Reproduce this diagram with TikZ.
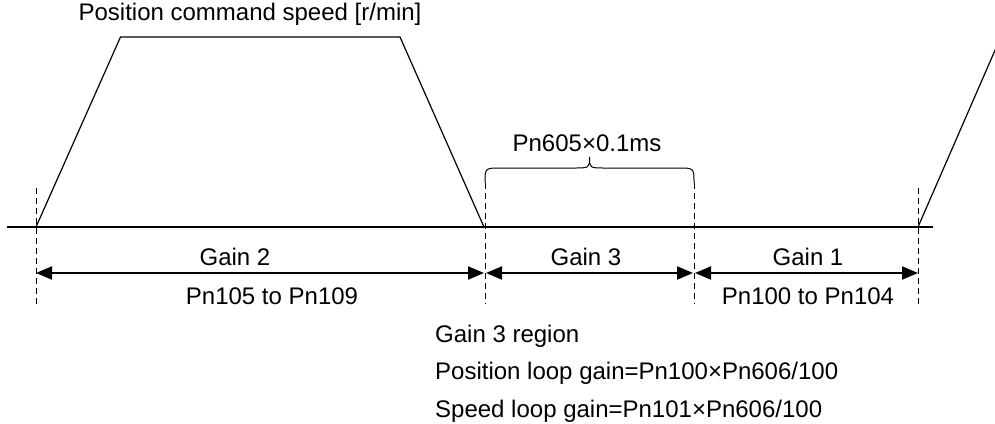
\documentclass[tikz,border=0pt]{standalone}
\usepackage{fontspec}
\setmainfont{Liberation Sans}
\usetikzlibrary{arrows.meta}
\begin{document}
\begin{tikzpicture}[x=1pt,y=-1pt,
  lbl/.style={font=\fontsize{24}{28}\selectfont, inner sep=0pt, anchor=base},
  lblw/.style={lbl, anchor=base west},
  plainline/.style={line width=1.2pt, line join=miter},
  guide/.style={line width=1pt, dash pattern=on 6pt off 4pt},
  dimarrow/.style={line width=2pt, {Triangle[length=16pt,width=13pt]}-{Triangle[length=16pt,width=13pt]}}]
\useasboundingbox (0,0) rectangle (995,423);
% axis and speed profile
\coordinate (axL) at (7,227);
\coordinate (axR) at (933,227);
\coordinate (t0) at (36,227);
\coordinate (t1) at (120.5,37);
\coordinate (t2) at (400,37);
\coordinate (t3) at (484,227);
\coordinate (r0) at (918,227);
\coordinate (r1) at (996,48);
\draw[plainline] (axL) -- (axR);
\draw[plainline] (t0) -- (t1) -- (t2) -- (t3);
\draw[plainline] (r0) -- (r1);
% dashed guides
\coordinate (g1a) at (36,188);  \coordinate (g1b) at (36,304);
\coordinate (g2a) at (485,183); \coordinate (g2b) at (485,304);
\coordinate (g3a) at (694,183); \coordinate (g3b) at (694,304);
\coordinate (g4a) at (918,188); \coordinate (g4b) at (918,304);
\draw[guide] (g1a) -- (g1b);
\draw[guide] (g2a) -- (g2b);
\draw[guide] (g3a) -- (g3b);
\draw[guide] (g4a) -- (g4b);
% brace
\coordinate (bc) at (589.5,157);
\draw[line width=1pt] (g2a) .. controls (485,168) .. (501,168) -- (574,168)
  .. controls (589.5,168) .. (bc) .. controls (589.5,168) .. (605,168) -- (678,168)
  .. controls (694,168) .. (g3a);
\node[lbl] (bt) at (587,151) {Pn605×0.1ms};
% dimension arrows
\coordinate (a1) at (36,273);
\coordinate (a2) at (484,273);
\coordinate (a3) at (486,273);
\coordinate (a4) at (693,273);
\coordinate (a5) at (695,273);
\coordinate (a6) at (918,273);
\draw[dimarrow] (a1) -- (a2);
\draw[dimarrow] (a3) -- (a4);
\draw[dimarrow] (a5) -- (a6);
% labels
\node[lbl] (title) at (250,20.5) {Position command speed [r/min]};
\node[lbl] (gain2) at (235,265) {Gain 2};
\node[lbl] (pn105) at (272,304) {Pn105 to Pn109};
\node[lbl] (gain3) at (586,265) {Gain 3};
\node[lbl] (gain1) at (808,265) {Gain 1};
\node[lbl] (pn100) at (808,304) {Pn100 to Pn104};
\node[lblw] (reg) at (435,342) {Gain 3 region};
\node[lblw] (plg) at (435,379.5) {Position loop gain=Pn100×Pn606/100};
\node[lblw] (slg) at (435,417) {Speed loop gain=Pn101×Pn606/100};
\end{tikzpicture}
\end{document}
